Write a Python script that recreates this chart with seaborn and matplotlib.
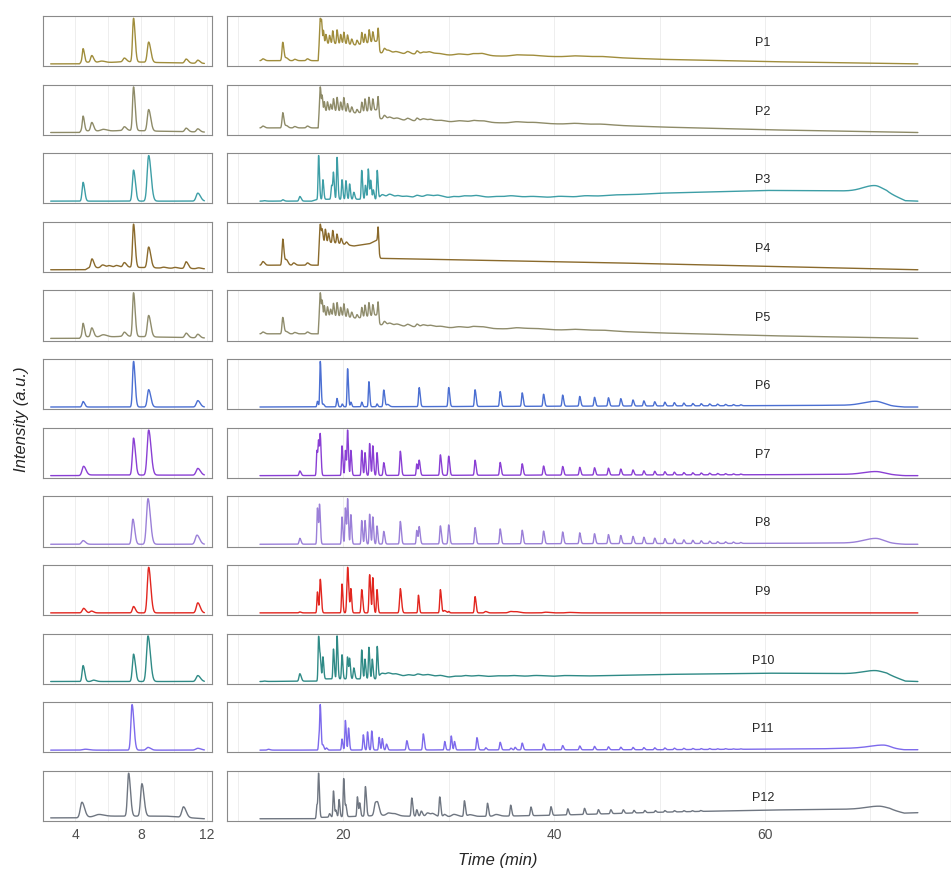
import numpy as np
import pandas as pd
import matplotlib
matplotlib.use("Agg")
import matplotlib.pyplot as plt
import matplotlib.transforms as mtransforms
import seaborn as sns

# Samples and line colours
SAMPLES = ["P1", "P2", "P3", "P4", "P5", "P6", "P7", "P8", "P9", "P10", "P11", "P12"]
COLORS = ["#a08d3c", "#8e8b68", "#3d9ea6", "#8a6a2c", "#8f8c6c", "#4b6fd2",
          "#8a3fd4", "#9b80d8", "#e2261f", "#2f8a86", "#7d6aec", "#6f7681"]

LEFT_RANGE = (2.5, 11.85)     # min, early window
RIGHT_RANGE = (12.1, 74.5)    # min, main window
LEFT_TICKS = [4, 8, 12]
RIGHT_TICKS = [20, 40, 60]

# peaks: (retention time, height, width[, right width])
# baselines: (time, level) knots
FLAT = [(2.5, 0.0), (11.85, 0.0)]

P1_LEFT = [(4.47, .30, .05), (5.0, .15, .07), (5.6, .03, .15), (6.98, .08, .08),
           (7.54, .97, .06), (8.46, .45, .08), (10.74, .09, .08), (11.45, .07, .08)]
P1_LBASE = [(2.5, 0.0), (4.25, 0.0), (4.35, .04), (6.0, .03), (7.0, .05), (9.0, .03), (11.85, .01)]
P2_LEFT = [(4.47, .33, .05), (5.0, .19, .07), (5.7, .04, .15), (6.98, .08, .08),
           (7.54, .98, .06), (8.46, .48, .08), (10.74, .08, .08), (11.45, .07, .08)]
P2_LBASE = [(2.5, 0.0), (4.25, 0.0), (4.35, .04), (6.0, .03), (7.0, .05), (9.0, .03), (11.85, .01)]
P3_LEFT = [(4.47, .40, .06), (7.54, .66, .07), (8.46, .97, .09), (11.45, .17, .1)]
P4_LEFT = [(5.01, .2, .07), (5.66, .06, .1), (6.06, .04, .1), (6.5, .04, .1), (6.98, .1, .08),
           (7.54, .96, .06), (8.46, .46, .08), (9.37, .02, .1), (10.07, .02, .1),
           (10.74, .15, .08), (11.5, .02, .1)]
P4_LBASE = [(2.5, 0.0), (4.6, 0.0), (4.8, .04), (6.0, .05), (7.0, .06), (9.0, .04), (11.85, .02)]
P5_LEFT = [(4.47, .30, .05), (5.0, .2, .07), (5.7, .05, .15), (6.98, .09, .08),
           (7.54, .98, .06), (8.46, .48, .08), (10.74, .1, .08), (11.45, .08, .08)]
P5_LBASE = [(2.5, 0.0), (4.25, 0.0), (4.35, .04), (6.0, .03), (7.0, .05), (9.0, .03), (11.85, .01)]
P6_LEFT = [(4.47, .12, .06), (7.54, 1.0, .06), (8.46, .38, .08), (11.45, .14, .09)]
P7_LEFT = [(4.5, .2, .09), (7.54, .82, .07), (8.46, 1.0, .09), (11.45, .15, .1)]
P7_LBASE = [(2.5, 0.0), (4.2, 0.0), (4.8, .015), (11.85, .01)]
P8_LEFT = [(4.47, .08, .09), (7.5, .55, .07), (8.42, 1.0, .09), (11.4, .2, .1)]
P9_LEFT = [(4.5, .1, .08), (4.98, .04, .08), (7.54, .14, .07), (8.46, 1.0, .08), (11.45, .22, .09)]
P10_LEFT = [(4.47, .35, .06), (5.1, .03, .1), (7.54, .6, .07), (8.42, 1.0, .09), (11.45, .13, .1)]
P11_LEFT = [(4.6, .02, .15), (7.45, 1.0, .07), (8.42, .06, .1), (11.45, .04, .12)]
P12_LEFT = [(4.4, .35, .1), (5.4, .04, .2), (7.24, .98, .07), (8.05, .74, .08), (10.58, .24, .1)]
P12_LBASE = [(2.5, .02), (4.2, .02), (5.5, .06), (7.0, .06), (9.5, .06), (11.85, 0.0)]

# homologous series in the main window
ALKANE_RT = [27.2, 30.0, 32.5, 34.88, 36.97, 39.0, 40.81, 42.43, 43.83, 45.15, 46.32, 47.48,
             48.51, 49.54, 50.5, 51.4, 52.3, 53.15, 53.95, 54.75, 55.5, 56.25, 57.0, 57.7]
P6_SERIES = [.41, .41, .36, .32, .29, .26, .24, .21, .19, .18, .16, .13,
             .11, .09, .08, .07, .06, .05, .045, .04, .035, .03, .025, .02]
P7_SERIES = [.33, .42, .33, .28, .25, .2, .19, .17, .16, .15, .13, .11,
             .09, .08, .07, .06, .05, .045, .04, .035, .03, .025, .02, .015]
P8_SERIES = [.38, .42, .36, .33, .3, .28, .26, .24, .22, .2, .18, .16,
             .14, .12, .11, .1, .08, .07, .06, .05, .04, .035, .03, .02]
P11_SERIES = [0, 0, 0, .18, .16, .14, .1, .09, .08, .07, .06, .055,
              .05, .045, .04, .035, .03, .025, .02, .02, .015, .015, .01, .01]
P12_SERIES_RT = [35.88, 37.8, 39.7, 41.3, 42.88, 44.2, 45.38, 46.56, 47.57, 48.6, 49.6,
                 50.5, 51.4, 52.3, 53.1, 53.9]
P12_SERIES = [.25, .2, .2, .14, .14, .1, .09, .08, .06, .05, .04, .035, .03, .025, .02, .02]

P1_RIGHT = [(12.38, .04, .1), (14.26, .40, .07), (14.6, .06, .1), (15.4, .03, .1), (16.6, .04, .1),
            (17.82, .55, .05), (17.95, .36, .04), (18.12, .28, .04), (18.35, .2, .05), (18.7, .18, .05),
            (19.0, .28, .05), (19.41, .3, .05), (19.75, .2, .05), (20.05, .25, .05), (20.4, .2, .05),
            (20.8, .12, .06), (21.3, .1, .06), (21.75, .25, .05), (22.06, .2, .05), (22.45, .28, .05),
            (22.8, .22, .05), (23.32, .3, .05),
            (23.9, .1, .1), (24.3, .06, .15), (25.0, .04, .2), (26.1, .05, .15), (27.0, .07, .1),
            (27.6, .05, .2), (28.2, .05, .2), (29.0, .03, .3), (31.0, .03, .4), (32.4, .04, .3),
            (33.2, .04, .3), (36.5, .03, .5), (38.0, .02, .5), (42.0, .02, .6), (44.5, .015, .6)]
P1_RBASE = [(12.1, .07), (17.62, .07), (17.72, .44), (20.0, .44), (21.2, .41), (23.3, .5),
            (23.45, .24), (26.0, .22), (30.0, .19), (35.0, .17), (44.0, .15), (50.0, .1),
            (60.0, .05), (74.5, 0.0)]
P2_RIGHT = [(12.38, .04, .1), (14.26, .33, .07), (14.6, .05, .1), (15.4, .03, .1), (16.6, .04, .1),
            (17.82, .52, .05), (18.0, .3, .04), (18.2, .2, .04), (18.5, .2, .05), (18.8, .15, .05),
            (19.07, .27, .05), (19.41, .3, .05), (19.75, .2, .05), (20.05, .3, .05), (20.4, .18, .05),
            (20.8, .12, .06), (21.3, .08, .06), (21.75, .22, .05), (22.06, .28, .05), (22.43, .3, .05),
            (22.8, .25, .05), (23.3, .28, .05),
            (23.9, .08, .1), (24.4, .05, .15), (25.1, .04, .2), (26.1, .05, .15), (27.0, .06, .1),
            (27.6, .05, .2), (28.3, .04, .2), (29.2, .03, .3), (31.0, .03, .4), (32.4, .04, .3),
            (33.3, .03, .3), (36.5, .03, .5), (38.2, .02, .5), (42.0, .02, .6), (44.5, .015, .6)]
P2_RBASE = [(12.1, .1), (17.62, .1), (17.72, .47), (20.0, .46), (21.3, .42), (23.3, .5),
            (23.45, .3), (26.0, .26), (30.0, .23), (35.0, .21), (44.0, .17), (50.0, .12),
            (60.0, .06), (74.5, 0.0)]
P3_RIGHT = [(12.5, .01, .1), (14.26, .03, .08), (15.88, .1, .08), (17.66, .94, .05), (18.07, .42, .05),
            (18.9, .3, .06), (19.07, .52, .05), (19.41, .9, .05), (19.88, .42, .05), (20.25, .4, .05),
            (20.6, .33, .05), (21.0, .15, .06), (21.75, .62, .05), (22.1, .3, .05), (22.37, .65, .05),
            (22.6, .4, .05), (22.85, .2, .05), (23.22, .62, .05),
            (23.7, .06, .15), (24.4, .07, .2), (25.2, .04, .2), (26.0, .03, .25), (27.0, .05, .2),
            (28.0, .06, .3), (29.0, .05, .3), (30.5, .03, .3), (31.5, .04, .3), (32.6, .05, .4),
            (34.5, .03, .5), (36.0, .04, .5), (38.0, .03, .6), (40.5, .03, .6), (43.0, .03, .6),
            (45.5, .02, .8), (70.4, .13, 1.1, .7)]
P3_RBASE = [(12.1, .02), (17.0, .02), (17.6, .06), (23.3, .06), (23.5, .1), (30.0, .09),
            (40.0, .09), (44.0, .11), (50.0, .19), (60.0, .25), (67.0, .24), (71.5, .22),
            (73.3, .03), (74.5, .02)]
P4_RIGHT = [(12.38, .08, .1), (14.26, .57, .07), (14.6, .12, .1), (15.3, .05, .1), (16.6, .05, .1),
            (17.82, .38, .05), (18.0, .25, .05), (18.3, .28, .05), (18.6, .2, .05), (19.0, .27, .05),
            (19.4, .2, .05), (19.8, .12, .06), (20.3, .06, .08), (23.32, .3, .05)]
P4_RBASE = [(12.1, .1), (17.62, .1), (17.72, .62), (19.5, .58), (21.0, .52), (22.5, .57),
            (23.3, .66), (23.42, .25), (44.0, .16), (74.5, 0.0)]
P5_RIGHT = [(12.38, .04, .1), (14.26, .36, .07), (14.6, .05, .1), (15.4, .03, .1), (16.6, .04, .1),
            (17.82, .5, .05), (18.0, .3, .04), (18.2, .22, .04), (18.5, .2, .05), (18.8, .15, .05),
            (19.07, .28, .05), (19.41, .3, .05), (19.75, .2, .05), (20.05, .28, .05), (20.4, .18, .05),
            (20.8, .12, .06), (21.3, .08, .06), (21.75, .22, .05), (22.06, .26, .05), (22.43, .3, .05),
            (22.8, .24, .05), (23.3, .28, .05),
            (23.9, .08, .1), (24.4, .05, .15), (25.1, .04, .2), (26.1, .05, .15), (27.0, .06, .1),
            (27.6, .05, .2), (28.3, .04, .2), (29.2, .03, .3), (31.0, .03, .4), (32.4, .04, .3),
            (33.3, .03, .3), (36.5, .03, .5), (38.2, .02, .5), (42.0, .02, .6), (44.5, .015, .6)]
P5_RBASE = [(12.1, .1), (17.62, .1), (17.72, .5), (20.0, .48), (21.3, .44), (23.3, .52),
            (23.45, .3), (26.0, .26), (30.0, .23), (35.0, .21), (44.0, .17), (50.0, .12),
            (60.0, .06), (74.5, 0.0)]
P6_RIGHT = [(17.55, .12, .05), (17.82, .98, .05), (18.1, .06, .06), (19.4, .18, .05), (19.9, .06, .05),
            (20.41, .82, .05), (20.72, .1, .05), (21.75, .1, .05), (22.43, .54, .05), (23.2, .06, .05),
            (23.84, .36, .06), (24.2, .05, .1), (70.5, .09, 1.1, .7)]
P6_RBASE = [(12.1, 0.0), (30.0, .01), (60.0, .03), (69.0, .04), (71.5, .03), (73.2, 0.0), (74.5, 0.0)]
P7_RIGHT = [(15.88, .1, .07), (17.5, .55, .05), (17.66, .7, .05), (17.82, .82, .05), (19.88, .65, .05),
            (20.2, .55, .05), (20.41, .98, .05), (20.72, .55, .05), (21.75, .55, .05), (22.06, .5, .05),
            (22.5, .7, .05), (22.8, .65, .05), (23.2, .5, .05), (23.84, .28, .06), (25.41, .53, .06),
            (26.97, .25, .05), (29.21, .45, .06), (70.5, .06, 1.1, .7)]
P7_RBASE = [(12.1, 0.0), (60.0, .02), (69.0, .03), (71.5, .03), (73.2, 0.0), (74.5, 0.0)]
P8_RIGHT = [(15.88, .13, .07), (17.55, .8, .05), (17.75, .85, .05), (19.88, .6, .05), (20.2, .8, .05),
            (20.41, .98, .05), (20.72, .65, .05), (21.75, .52, .05), (22.06, .52, .05), (22.5, .66, .05),
            (22.8, .6, .05), (23.2, .4, .05), (23.84, .28, .06), (25.41, .5, .06), (26.97, .3, .05),
            (29.21, .4, .06), (70.5, .1, 1.1, .7)]
P8_RBASE = P7_RBASE
P9_RIGHT = [(15.88, .02, .08), (17.55, .45, .05), (17.82, .72, .06), (19.88, .62, .05), (20.41, .98, .07),
            (20.72, .5, .05), (21.75, .5, .06), (22.5, .82, .06), (22.8, .75, .05), (23.2, .5, .05),
            (25.41, .52, .07), (27.13, .38, .05), (29.21, .5, .06), (29.6, .05, .1), (30.0, .03, .05),
            (32.5, .35, .06), (33.5, .03, .1), (35.9, .03, .2), (36.5, .02, .2), (39.2, .015, .2),
            (41.5, .01, .3)]
P9_RBASE = [(12.1, 0.0), (74.5, 0.0)]
P10_RIGHT = [(12.5, .01, .1), (15.88, .17, .08), (17.66, .98, .05), (17.82, .42, .05), (18.07, .5, .05),
             (19.07, .68, .05), (19.41, .98, .05), (19.88, .55, .05), (20.4, .5, .05), (20.6, .45, .05),
             (21.0, .25, .06), (21.75, .66, .05), (22.06, .45, .05), (22.43, .72, .05), (22.75, .45, .05),
             (23.22, .74, .05),
             (23.7, .05, .15), (24.3, .06, .2), (25.0, .04, .2), (26.2, .03, .25), (27.1, .05, .2),
             (28.0, .05, .3), (29.2, .04, .3), (30.6, .03, .3), (31.6, .04, .3), (32.8, .04, .4),
             (34.6, .03, .5), (36.2, .03, .5), (38.3, .03, .6), (41.0, .02, .6), (70.4, .07, 1.1, .7)]
P10_RBASE = [(12.1, .02), (17.5, .03), (17.7, .08), (23.3, .08), (23.5, .16), (27.0, .14),
             (30.0, .11), (35.0, .12), (40.0, .13), (50.0, .18), (60.0, .21), (68.0, .2),
             (71.5, .2), (73.3, .03), (74.5, .02)]
P11_RIGHT = [(12.9, .02, .1), (17.7, .3, .05), (17.82, .98, .05), (18.07, .12, .06), (18.4, .05, .06),
             (19.88, .26, .05), (20.2, .7, .05), (20.5, .52, .05), (21.9, .36, .05), (22.3, .43, .05),
             (22.7, .45, .05), (23.4, .3, .05), (23.7, .27, .05), (24.1, .14, .06), (26.03, .22, .06),
             (27.59, .38, .06), (29.62, .2, .05), (30.24, .33, .05), (30.55, .2, .05), (32.68, .29, .06),
             (33.52, .05, .06), (35.9, .04, .06), (36.3, .06, .06), (71.2, .07, 1.2, .6)]
P11_RBASE = [(12.1, 0.0), (50.0, .01), (65.0, .03), (69.0, .05), (71.8, .05), (73.2, .01), (74.5, .01)]
P12_RIGHT = [(17.5, .3, .05), (17.66, .98, .05), (18.7, .08, .06), (19.07, .6, .05), (19.3, .15, .05),
             (19.6, .4, .05), (20.04, .88, .05), (20.25, .25, .05), (21.34, .45, .05), (21.56, .3, .05),
             (22.1, .68, .06), (23.06, .3, .12), (23.3, .15, .1), (24.3, .06, .2), (24.9, .04, .2),
             (26.5, .42, .06), (26.97, .15, .06), (27.4, .12, .08), (28.0, .08, .15), (28.5, .06, .15),
             (29.15, .45, .06), (29.6, .05, .1), (30.5, .05, .2), (31.49, .36, .06), (32.0, .04, .2),
             (33.68, .3, .06), (34.5, .04, .2), (70.8, .07, 1.2, .7)]
P12_RBASE = [(12.1, .02), (17.3, .02), (17.6, .05), (22.0, .08), (23.5, .1), (26.0, .08),
             (30.0, .07), (35.0, .08), (40.0, .1), (50.0, .17), (60.0, .22), (68.0, .24),
             (71.8, .24), (73.2, .15), (74.5, .16)]

SERIES = {
    "P6": (ALKANE_RT, P6_SERIES), "P7": (ALKANE_RT, P7_SERIES), "P8": (ALKANE_RT, P8_SERIES),
    "P11": (ALKANE_RT, P11_SERIES), "P12": (P12_SERIES_RT, P12_SERIES),
}
LEFT = [(P1_LEFT, P1_LBASE), (P2_LEFT, P2_LBASE), (P3_LEFT, FLAT), (P4_LEFT, P4_LBASE),
        (P5_LEFT, P5_LBASE), (P6_LEFT, FLAT), (P7_LEFT, P7_LBASE), (P8_LEFT, FLAT),
        (P9_LEFT, FLAT), (P10_LEFT, FLAT), (P11_LEFT, FLAT), (P12_LEFT, P12_LBASE)]
RIGHT = [(P1_RIGHT, P1_RBASE), (P2_RIGHT, P2_RBASE), (P3_RIGHT, P3_RBASE), (P4_RIGHT, P4_RBASE),
         (P5_RIGHT, P5_RBASE), (P6_RIGHT, P6_RBASE), (P7_RIGHT, P7_RBASE), (P8_RIGHT, P8_RBASE),
         (P9_RIGHT, P9_RBASE), (P10_RIGHT, P10_RBASE), (P11_RIGHT, P11_RBASE), (P12_RIGHT, P12_RBASE)]


# chromatogram trace from the peak table and the baseline knots
def build_trace(t, peaks, base):
    bt, bv = zip(*base)
    y = np.interp(t, bt, bv)
    for p in peaks:
        rt, h, wl = p[:3]
        wr = p[3] if len(p) > 3 else wl * 1.6
        w = np.where(t < rt, wl, wr)
        y = y + h * np.exp(-0.5 * ((t - rt) / w) ** 2)
    return y


t_left = np.arange(LEFT_RANGE[0], LEFT_RANGE[1] + 1e-9, 0.005)
t_right = np.arange(RIGHT_RANGE[0], RIGHT_RANGE[1] + 1e-9, 0.01)

frames = []
for name, (lp, lb), (rp, rb) in zip(SAMPLES, LEFT, RIGHT):
    rp = list(rp)
    if name in SERIES:
        rts, hs = SERIES[name]
        rp += [(r, h, .06) for r, h in zip(rts, hs) if h > 0]
    frames.append(pd.DataFrame({"time": t_left, "intensity": build_trace(t_left, lp, lb),
                                "sample": name, "window": "left"}))
    frames.append(pd.DataFrame({"time": t_right, "intensity": build_trace(t_right, rp, rb),
                                "sample": name, "window": "right"}))
df = pd.concat(frames, ignore_index=True)

sns.set_style("white")
plt.rcParams["font.family"] = ["Liberation Sans", "DejaVu Sans"]

fig = plt.figure(figsize=(9.51, 8.74), dpi=100)
gs = fig.add_gridspec(12, 2, width_ratios=[169, 723], left=0.0452, right=0.9995,
                      top=0.9817, bottom=0.0606, hspace=0.368, wspace=0.0336)

for i, (name, color) in enumerate(zip(SAMPLES, COLORS)):
    for j, window in enumerate(["left", "right"]):
        ax = fig.add_subplot(gs[i, j])
        sub = df[(df["sample"] == name) & (df["window"] == window)]
        sns.lineplot(data=sub, x="time", y="intensity", ax=ax, color=color,
                     linewidth=1.0, estimator=None, errorbar=None, legend=False)
        if window == "left":
            ax.set_xlim(2.03, 12.32)
            grid = [4, 6, 8, 10, 12]
            ticks = LEFT_TICKS
        else:
            ax.set_xlim(8.98, 77.6)
            grid = [10, 20, 30, 40, 50, 60, 70]
            ticks = RIGHT_TICKS
            ax.text(59.8, 0.46, name, fontsize=9, ha="center", va="center",
                    transform=mtransforms.blended_transform_factory(ax.transData, ax.transAxes))
        for g in grid:
            ax.axvline(g, color="#ebebeb", linewidth=0.6, zorder=0)
        ax.margins(y=0.05)
        ax.set_yticks([])
        ax.set_xticks(ticks)
        ax.set_xlabel("")
        ax.set_ylabel("")
        for s in ax.spines.values():
            s.set_color("#8a8a8a")
            s.set_linewidth(0.8)
        if i == len(SAMPLES) - 1:
            ax.tick_params(axis="x", length=3, color="#333333", labelsize=10,
                           labelcolor="#4d4d4d", pad=2)
        else:
            ax.tick_params(axis="x", length=0, labelbottom=False)

fig.text(0.523, 0.016, "Time (min)", ha="center", va="center", fontsize=12, style="italic")
fig.text(0.023, 0.52, "Intensity (a.u.)", ha="center", va="center", fontsize=12,
         style="italic", rotation=90)

fig.savefig("out.png", dpi=100)
